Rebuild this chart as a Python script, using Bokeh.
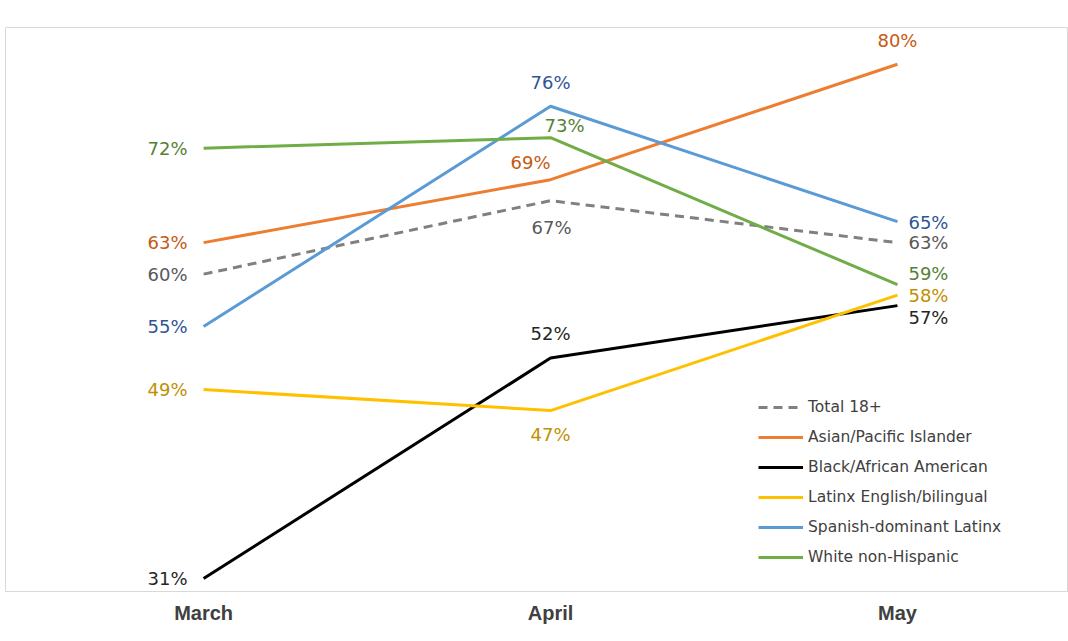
from bokeh.plotting import figure
from bokeh.models import ColumnDataSource, Range1d, FixedTicker, Legend, LegendItem
from bokeh.core.properties import value
from bokeh.embed import file_html
from bokeh.resources import INLINE

months = ["March", "April", "May"]
series_names = ["Total 18+", "Asian/Pacific Islander", "Black/African American",
                "Latinx English/bilingual", "Spanish-dominant Latinx", "White non-Hispanic"]
total_18 = [60, 67, 63]
asian_pi = [63, 69, 80]
black_aa = [31, 52, 57]
latinx_eng = [49, 47, 58]
spanish_latinx = [55, 76, 65]
white_nh = [72, 73, 59]

values = [total_18, asian_pi, black_aa, latinx_eng, spanish_latinx, white_nh]

# styles
line_colors = ["#808080", "#ED7D31", "#000000", "#FFC000", "#5B9BD5", "#70AD47"]
label_colors = ["#595959", "#C55A11", "#262626", "#BF9000", "#2F5597", "#548235"]
dashes = ["9 6", "solid", "solid", "solid", "solid", "solid"]
# label placement per series per month: (x_offset px, y_offset px, align)
placements = [
    [(-16, 0, "right"), (1, 27, "center"), (11, 0, "left")],
    [(-16, 0, "right"), (-20, -17, "center"), (0, -24, "center")],
    [(-16, 0, "right"), (0, -25, "center"), (11, 12, "left")],
    [(-16, 0, "right"), (0, 24, "center"), (11, 0, "left")],
    [(-16, 0, "right"), (0, -24, "center"), (11, 1, "left")],
    [(-16, 0, "right"), (14, -12, "center"), (11, -11, "left")],
]

LABEL_FONT = "DejaVu Sans"
AXIS_FONT = "Liberation Sans"

p = figure(width=1068, height=641, output_backend="svg", toolbar_location=None,
           x_range=Range1d(-0.571, 2.493), y_range=Range1d(29.76, 83.5),
           min_border_left=5, min_border_right=0, min_border_top=27, min_border_bottom=50)
p.outline_line_color = "#D9D9D9"
p.outline_line_width = 1
p.xgrid.visible = False
p.ygrid.visible = False
p.yaxis.visible = False
p.background_fill_color = "white"
p.border_fill_color = "white"

xs = list(range(len(months)))
p.xaxis.ticker = FixedTicker(ticks=xs)
p.xaxis.major_label_overrides = {i: m for i, m in enumerate(months)}
p.xaxis.axis_line_color = "#D9D9D9"
p.xaxis.major_tick_line_color = None
p.xaxis.minor_tick_line_color = None
p.xaxis.major_label_text_font = AXIS_FONT
p.xaxis.major_label_text_font_size = "20px"
p.xaxis.major_label_text_font_style = "bold"
p.xaxis.major_label_text_color = "#404040"
p.xaxis.major_label_standoff = 4

items = []
for name, vals, lc, tc, dash, place in zip(series_names, values, line_colors, label_colors, dashes, placements):
    src = ColumnDataSource(dict(x=xs, y=vals))
    r = p.line("x", "y", source=src, line_color=lc, line_width=3, line_dash=dash)
    items.append(LegendItem(label=name, renderers=[r]))
    for i, v in enumerate(vals):
        dx, dy, al = place[i]
        p.text(x=[xs[i]], y=[v], text=[f"{v}%"], x_offset=dx, y_offset=dy,
               text_align=al, text_baseline="middle", text_color=tc,
               text_font=value(LABEL_FONT), text_font_size="18px")

legend = Legend(items=items, location=(753, 24), orientation="vertical")
legend.label_text_font = LABEL_FONT
legend.label_text_font_size = "15.5px"
legend.label_text_color = "#404040"
legend.glyph_width = 45
legend.glyph_height = 20
legend.label_height = 20
legend.spacing = 10
legend.padding = 5
legend.margin = 0
legend.label_standoff = 5
legend.border_line_color = None
legend.background_fill_alpha = 0
p.add_layout(legend, "center")

open("out.html", "w").write(file_html(p, INLINE))
